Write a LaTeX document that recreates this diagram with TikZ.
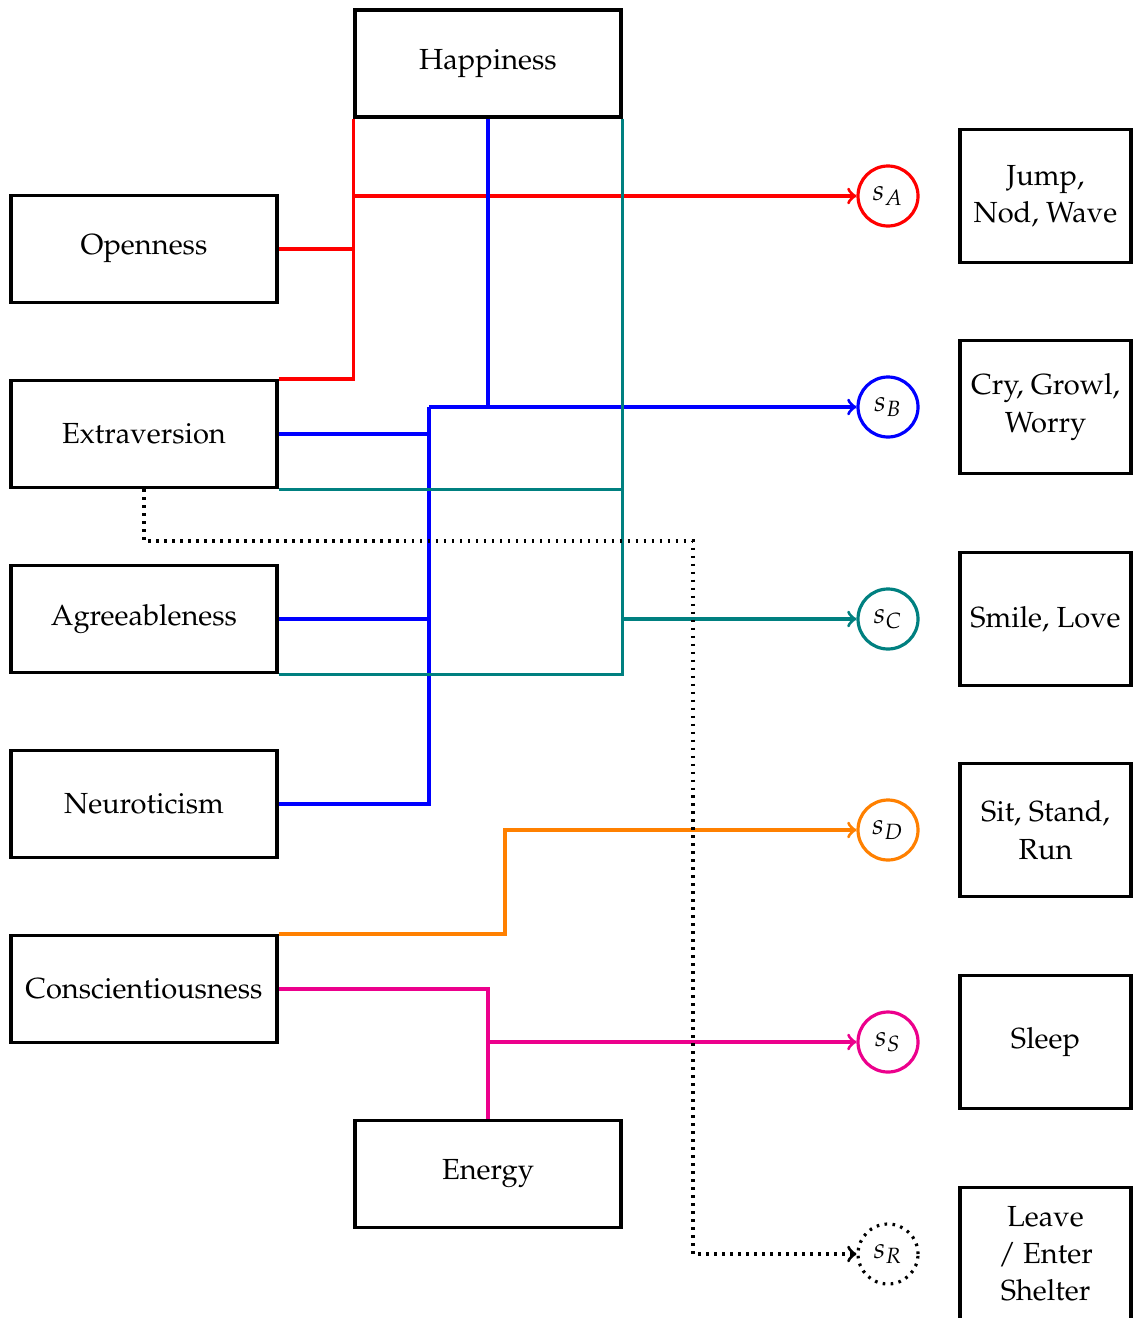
\documentclass[tikz,border=0pt]{standalone}
\usepackage[T1]{fontenc}
\usepackage{mathpazo}
\usetikzlibrary{calc}
\newlength\pu
\setlength\pu{0.344pt}
\definecolor{mag}{cmyk}{0,1,0,0}
\begin{document}
\begin{tikzpicture}[x=\pu,y=-\pu,
  trait/.style={draw,line width=1.1pt,minimum width=266\pu,minimum height=107\pu,inner sep=0pt},
  actbox/.style={draw,line width=1.1pt,minimum width=171\pu,minimum height=133\pu,inner sep=0pt,align=center,
    execute at begin node=\setlength\baselineskip{12.8pt}},
  state/.style={circle,line width=1.1pt,minimum size=60\pu,inner sep=0pt},
  link/.style={line width=1.1pt},
  dots/.style={dash pattern=on 0.9pt off 1.85pt},
  >=to]
\useasboundingbox (0,0) rectangle (1132,1318);

% personality traits and drives
\node[trait] (happ) at (488,63.5) {Happiness};
\node[trait] (open) at (144,249) {Openness};
\node[trait] (ext)  at (144,434) {Extraversion};
\node[trait] (agr)  at (144,619) {Agreeableness};
\node[trait] (neu)  at (144,804) {Neuroticism};
\node[trait] (con)  at (144,989) {Conscientiousness};
\node[trait] (en)   at (488,1174) {Energy};

% states
\node[state,draw=red]    (sA) at (888,196)  {$s_A$};
\node[state,draw=blue]   (sB) at (888,407)  {$s_B$};
\node[state,draw=teal]   (sC) at (888,619)  {$s_C$};
\node[state,draw=orange] (sD) at (888,830)  {$s_D$};
\node[state,draw=mag]    (sS) at (888,1042) {$s_S$};
\node[state,draw,dots]   (sR) at (888,1254) {$s_R$};

% actions
\node[actbox] (aA) at (1045.5,196)  {Jump,\\Nod, Wave};
\node[actbox] (aB) at (1045.5,407)  {Cry, Growl,\\Worry};
\node[actbox] (aC) at (1045.5,619)  {Smile, Love};
\node[actbox] (aD) at (1045.5,830)  {Sit, Stand,\\Run};
\node[actbox] (aS) at (1045.5,1042) {Sleep};
\node[actbox] (aR) at (1045.5,1254) {Leave\\/ Enter\\Shelter};

% junction points
\coordinate (bj) at (429,407);
\coordinate (dj) at (693,541);
\coordinate (oj) at (505,830);

% state A
\draw[link,red] (ext.north east) -| (happ.south west);
\draw[link,red] (open.east) -- (open.east -| happ.south west);
\draw[link,red,->] (sA -| happ.south west) -- (sA);

% state B
\draw[link,blue] (happ.south) -- (happ.south |- sB);
\draw[link,blue] (neu.east) -| (bj);
\draw[link,blue] (ext.east) -- (ext.east -| bj);
\draw[link,blue] (agr.east) -- (agr.east -| bj);
\draw[link,blue,->] (bj) -- (sB);

% state C
\draw[link,teal] (happ.south east) |- (agr.south east);
\draw[link,teal] (ext.south east) -- (ext.south east -| happ.south east);
\draw[link,teal,->] (sC -| happ.south east) -- (sC);

% state D
\draw[link,orange,->] (con.north east) -| (oj) -- (sD);

% state S
\draw[link,mag] (con.east) -| (en.north |- sS);
\draw[link,mag,->] (en.north) |- (sS);

% state R
\draw[link,dots,->] (ext.south) |- (dj) |- (sR);
\end{tikzpicture}
\end{document}
